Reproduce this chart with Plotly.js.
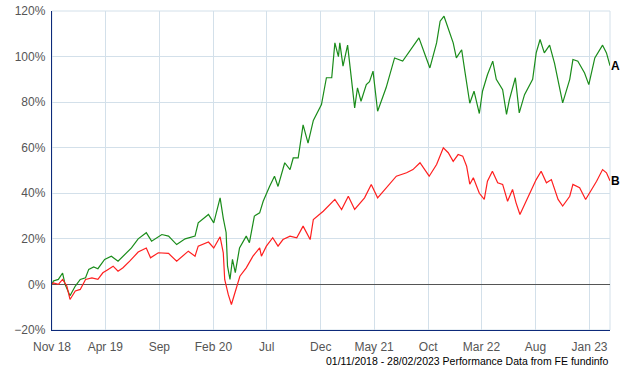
<!DOCTYPE html>
<html>
<head>
<meta charset="utf-8">
<script src="https://cdn.plot.ly/plotly-3.0.1.min.js"></script>
<style>html,body{margin:0;padding:0;background:#fff;}#chart{width:640px;height:370px;}</style>
</head>
<body>
<div id="chart"></div>
<script>
const datesA = ["2018-11-01","2018-11-05","2018-11-19","2018-12-01","2018-12-08","2018-12-22","2019-01-06","2019-01-20","2019-02-04","2019-02-13","2019-02-27","2019-03-11","2019-03-30","2019-04-18","2019-05-07","2019-05-21","2019-06-14","2019-07-03","2019-07-26","2019-08-10","2019-09-08","2019-09-27","2019-10-20","2019-11-13","2019-12-11","2019-12-20","2020-01-18","2020-02-02","2020-02-20","2020-02-29","2020-03-08","2020-03-12","2020-03-19","2020-03-26","2020-04-03",
"2020-04-15","2020-05-04","2020-05-13","2020-05-27","2020-06-11","2020-06-21","2020-07-09","2020-07-23","2020-08-02","2020-08-21","2020-09-05","2020-09-14","2020-09-28","2020-10-12","2020-10-26","2020-11-10","2020-12-03","2020-12-17","2021-01-01","2021-01-10","2021-01-20","2021-01-24","2021-02-02","2021-02-15","2021-02-26","2021-03-07","2021-03-15","2021-03-25","2021-04-09","2021-04-18","2021-04-28","2021-05-11","2021-06-04","2021-06-28","2021-07-21","2021-08-19","2021-09-05","2021-09-22",
"2021-10-06","2021-10-25","2021-11-04","2021-11-15","2021-11-27","2021-12-11","2021-12-20","2022-01-04","2022-01-13","2022-01-27","2022-02-08","2022-02-23","2022-03-04","2022-03-18","2022-04-02","2022-04-12","2022-04-30","2022-05-11","2022-05-19","2022-06-05","2022-06-16","2022-07-01","2022-07-24","2022-08-03","2022-08-14","2022-08-26","2022-09-10","2022-09-24","2022-10-17","2022-11-06","2022-11-15","2022-11-29","2022-12-18","2022-12-30","2023-01-16","2023-02-07","2023-02-18","2023-02-28"];
const valuesA = [0,1.5,2.2,5,0,-5,-0.7,2.2,2.9,6.6,7.7,6.9,11,12.4,10.2,12.4,16,20,22.7,19,21.9,21.2,17.5,20,21.2,27,30.7,27,38,29,22.8,8,2.2,11,5.2,
16,21.2,18.3,30,31.4,36.5,43,47.5,43,53.4,50.4,55.5,55.5,70,62,72,78.9,90.7,90.7,106,100,106,95.8,105,90,77.5,86.3,80.4,87.7,89,93.6,76,86.3,99.4,98,104.5,108.2,100.9,
95,106,115.5,117.7,111.8,106,99.4,103,93.6,79.5,84.8,75,84.8,92,98,90,85.5,74.6,81,90.7,75.3,83.3,90,101.6,107.5,101.6,105,97,79.7,90,98.7,98,92.8,87.7,99.4,105,101.6,96];

const datesB = ["2018-11-01","2018-11-05","2018-11-19","2018-12-01","2018-12-13","2018-12-22","2019-01-06","2019-01-20","2019-02-04","2019-02-22","2019-03-11","2019-03-25","2019-04-09","2019-04-23","2019-05-07","2019-05-21","2019-06-09","2019-07-03","2019-07-26","2019-08-07","2019-08-29","2019-09-27","2019-10-20","2019-11-22","2019-12-11","2019-12-20","2020-01-18","2020-02-02","2020-02-20","2020-02-29","2020-03-04","2020-03-14","2020-03-23","2020-04-02","2020-04-16",
"2020-05-04","2020-05-23","2020-06-11","2020-06-16","2020-06-30","2020-07-18","2020-08-02","2020-08-16","2020-09-05","2020-09-24","2020-10-12","2020-11-01","2020-11-10","2020-12-08","2021-01-10","2021-01-29","2021-02-17","2021-03-07","2021-04-04","2021-04-23","2021-05-11","2021-06-04","2021-07-03","2021-08-01","2021-08-19","2021-09-08","2021-10-04",
"2021-10-25","2021-11-13","2021-11-27","2021-12-11","2021-12-25","2022-01-07","2022-01-18","2022-01-27","2022-02-06","2022-02-23","2022-03-09","2022-03-18","2022-04-01","2022-04-16","2022-04-30","2022-05-14","2022-05-28","2022-06-07","2022-06-18","2022-07-05","2022-07-19","2022-08-03","2022-08-17","2022-09-01","2022-09-15","2022-10-04","2022-10-17","2022-11-06","2022-11-15","2022-12-04","2022-12-21","2023-01-07","2023-01-21","2023-02-07","2023-02-18","2023-02-28"];
const valuesB = [0,0.7,0,2.2,-0.7,-6.6,-2.9,-2.2,2.2,2.9,2.2,5.1,6.6,8,5.8,7.3,10.2,14.2,16,11.7,13.9,13.6,10.2,14.6,12.4,16.8,18.6,16,20.9,13.9,2.2,-4.4,-8.8,-3.6,3.6,
7.3,12.4,16,12.4,16.8,20.5,16.8,19.7,21.2,20.5,25.6,19.7,28.5,32.1,37.3,32.9,38.7,32.9,38,43.9,38,42.4,47.5,49,50.4,53.4,47.5,
52.6,60,57.8,54,57,56.3,51.9,44,46.8,40,37.3,45.3,49.7,44.6,43.9,36.5,41.7,35.8,30.7,36.5,40.9,46,49.7,44.6,46,37.3,34.4,38.7,43.9,42.4,37.3,41.7,45.3,50.4,49,45.5];

const tickDates = ["2018-11-01","2019-04-01","2019-09-01","2020-02-01","2020-07-01","2020-12-01","2021-05-01","2021-10-01","2022-03-01","2022-08-01","2023-01-01"];
const tickLabels = ["Nov 18","Apr 19","Sep","Feb 20","Jul","Dec","May 21","Oct","Mar 22","Aug","Jan 23"];
const seriesNames = ["A","B"];
const footer = "01/11/2018 - 28/02/2023 Performance Data from FE fundinfo";

const gridColor = "#d3e0ea";
const navy = "#0d2a7a";

const traces = [
  {x: datesA, y: valuesA, type: "scatter", mode: "lines", name: seriesNames[0], line: {color: "#1a8c1a", width: 1.2}},
  {x: datesB, y: valuesB, type: "scatter", mode: "lines", name: seriesNames[1], line: {color: "#ff1f1f", width: 1.2}}
];

const layout = {
  width: 640, height: 370,
  margin: {l: 52, r: 30, t: 11, b: 40},
  paper_bgcolor: "#fff", plot_bgcolor: "#fff",
  showlegend: false,
  font: {family: "Liberation Sans, Arial, sans-serif", size: 12, color: "#555"},
  xaxis: {
    type: "date", range: ["2018-11-01", "2023-02-28"],
    tickmode: "array", tickvals: tickDates, ticktext: tickLabels,
    showgrid: true, gridcolor: gridColor, gridwidth: 1,
    showline: true, linecolor: navy, linewidth: 1.2,
    ticks: "outside", ticklen: 5, tickcolor: "rgba(0,0,0,0)",
    zeroline: false, fixedrange: true
  },
  yaxis: {
    range: [-20, 120], dtick: 20, tick0: 0, ticksuffix: "%",
    showgrid: true, gridcolor: gridColor, gridwidth: 1,
    showline: true, linecolor: navy, linewidth: 1.2,
    zeroline: true, zerolinecolor: "#555", zerolinewidth: 1,
    ticks: "outside", ticklen: 3, tickcolor: "rgba(0,0,0,0)",
    fixedrange: true
  },
  shapes: [
    {type: "rect", xref: "paper", yref: "paper", x0: 0, x1: 1, y0: 0, y1: 1, line: {color: gridColor, width: 1}, layer: "below"}
  ],
  annotations: [
    {xref: "paper", yref: "y", x: 1, y: valuesA[valuesA.length - 1], xshift: 12, text: "<b>" + seriesNames[0] + "</b>", showarrow: false, font: {color: "#000", size: 12, family: "Liberation Sans, Arial, sans-serif"}},
    {xref: "paper", yref: "y", x: 1, y: valuesB[valuesB.length - 1], xshift: 12, text: "<b>" + seriesNames[1] + "</b>", showarrow: false, font: {color: "#000", size: 12, family: "Liberation Sans, Arial, sans-serif"}},
    {xref: "paper", yref: "paper", x: 1, y: -0.097, xanchor: "right", yanchor: "middle", text: footer, showarrow: false, font: {color: "#000", size: 10.5, family: "Liberation Sans, Arial, sans-serif"}}
  ]
};

Plotly.newPlot("chart", traces, layout, {displayModeBar: false, staticPlot: true});
</script>
</body>
</html>
